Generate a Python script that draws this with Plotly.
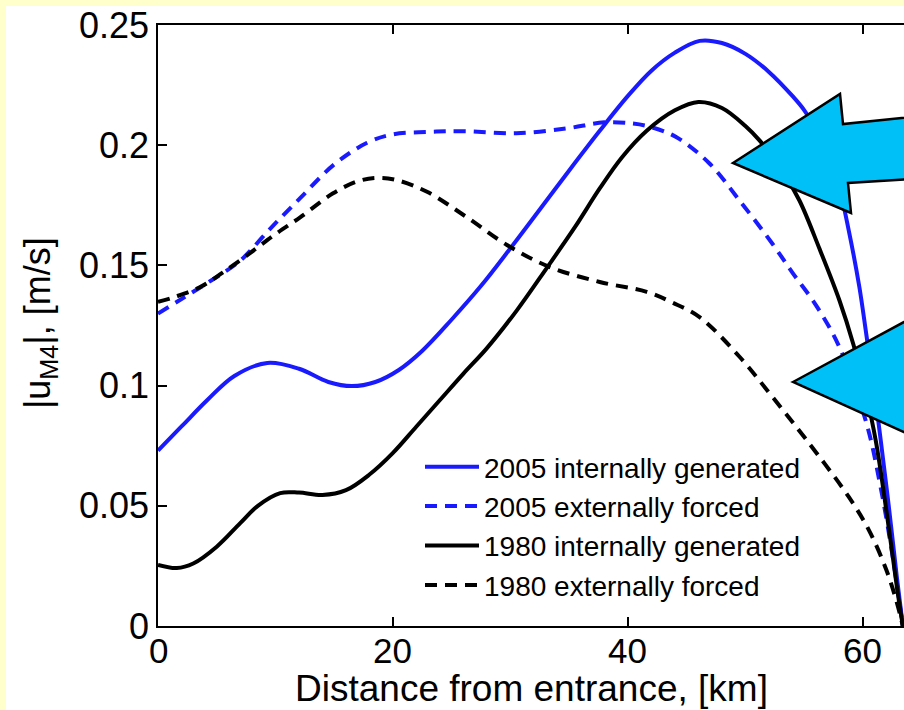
import plotly.graph_objects as go

# ---------------- data ----------------
x_2005_int = [0, 2, 4.2, 6.5, 9.3, 12, 14.5, 16.5, 18.5, 20.5, 22.5, 25, 27.5, 29.9, 32, 35,
              37.6, 40, 42, 44, 46.1, 48, 50, 52, 54, 55, 56, 57, 58, 58.8, 59.7, 60.3, 61,
              61.5, 62.2, 62.9, 63.4]
y_2005_int = [0.073, 0.083, 0.094, 0.104, 0.1094, 0.107, 0.1015, 0.0998, 0.1015, 0.1065,
              0.1145, 0.1275, 0.1415, 0.1565, 0.170, 0.1895, 0.206, 0.2205, 0.231, 0.2385,
              0.2434, 0.2425, 0.238, 0.2305, 0.2205, 0.2146, 0.2065, 0.196, 0.182, 0.1645,
              0.141, 0.121, 0.097, 0.078, 0.05, 0.02, 0.0]

x_2005_ext = [0, 2, 4.2, 7, 9.5, 12.1, 15, 17.8, 20, 22.9, 26, 30.5, 34.8, 38, 40.4, 42, 44.1,
              46.9, 49.5, 52.3, 54, 56, 58, 60.3, 61.5, 62.5, 63.4]
y_2005_ext = [0.130, 0.136, 0.1427, 0.152, 0.165, 0.178, 0.192, 0.201, 0.2045, 0.2055, 0.2058,
              0.205, 0.207, 0.2095, 0.209, 0.2075, 0.2034, 0.1926, 0.177, 0.159, 0.147, 0.1335,
              0.116, 0.0844, 0.058, 0.03, 0.0]

x_1980_int = [0, 1.6, 3, 5, 7, 8.5, 10.4, 12, 14, 16, 18, 20, 22, 24, 26, 28, 30.5, 33.1, 35.5,
              37.6, 39.5, 41.6, 44, 46, 48, 50, 51.2, 53, 54.6, 56.3, 58, 59.2, 60.2, 61.1, 62,
              62.9, 63.4]
y_1980_int = [0.0254, 0.0241, 0.026, 0.033, 0.0428, 0.050, 0.0553, 0.0555, 0.0545, 0.0565,
              0.063, 0.072, 0.083, 0.094, 0.105, 0.1156, 0.131, 0.149, 0.166, 0.182, 0.195,
              0.206, 0.2145, 0.218, 0.2155, 0.208, 0.202, 0.1905, 0.177, 0.157, 0.1355, 0.117,
              0.098, 0.077, 0.048, 0.016, 0.0]

x_1980_ext = [0, 1.5, 3.6, 5.5, 7.8, 10, 12.1, 14.9, 17, 18.6, 20.3, 22.9, 26.3, 29.7, 33.3,
              37.6, 41.6, 43.8, 46.1, 49.5, 52.3, 55.2, 58.8, 60.5, 62, 62.9, 63.4]
y_1980_ext = [0.1348, 0.137, 0.141, 0.147, 0.155, 0.163, 0.170, 0.180, 0.185, 0.1864, 0.1855,
              0.1806, 0.170, 0.1585, 0.1494, 0.1431, 0.139, 0.1345, 0.1285, 0.112, 0.0953,
              0.0774, 0.0537, 0.040, 0.0233, 0.0096, 0.0]

series_names = ["2005 internally generated", "2005 externally forced",
                "1980 internally generated", "1980 externally forced"]

x_ticks = [0, 20, 40, 60]
x_ticktext = ["0", "20", "40", "60"]
y_ticks = [0, 0.05, 0.1, 0.15, 0.2, 0.25]
y_ticktext = ["0", "0.05", "0.1", "0.15", "0.2", "0.25"]

# ---------------- layout geometry ----------------
W, H = 904, 710
ML, MT, MB, MR = 158, 25, 84, 0
PW, PH = W - ML - MR, H - MT - MB
FONT = "Liberation Sans, Arial, sans-serif"
BLUE = "#1a1aff"
CYAN = "#00c0f8"


def px2paper(px, py):
    return (px - ML) / PW, (H - MB - py) / PH


def path_from_px(points):
    parts = []
    for i, (px, py) in enumerate(points):
        xp, yp = px2paper(px, py)
        parts.append(("M" if i == 0 else "L") + f"{xp:.5f},{yp:.5f}")
    return " ".join(parts) + " Z"


fig = go.Figure()
styles = [(BLUE, "solid"), (BLUE, "12px,8px"), ("black", "solid"), ("black", "12px,8px")]
data = [(x_2005_int, y_2005_int), (x_2005_ext, y_2005_ext),
        (x_1980_int, y_1980_int), (x_1980_ext, y_1980_ext)]
for (xs, ys), name, (col, dash) in zip(data, series_names, styles):
    fig.add_trace(go.Scatter(x=xs, y=ys, mode="lines", name=name,
                             line=dict(color=col, width=4, dash=dash,
                                       shape="spline", smoothing=1.0)))

arrow1 = [(733, 163), (840, 94), (843, 124), (930, 115), (930, 178), (848, 183), (851, 213)]
arrow2 = [(793, 382), (930, 308), (930, 444)]

shapes = [
    dict(type="rect", xref="paper", yref="paper",
         x0=px2paper(6, 0)[0], x1=px2paper(W + 20, 0)[0],
         y0=px2paper(0, H + 20)[1], y1=px2paper(0, 6)[1],
         fillcolor="white", line=dict(width=0), layer="below"),
    dict(type="path", xref="paper", yref="paper", path=path_from_px(arrow1),
         fillcolor=CYAN, line=dict(color="black", width=2.5), layer="above"),
    dict(type="path", xref="paper", yref="paper", path=path_from_px(arrow2),
         fillcolor=CYAN, line=dict(color="black", width=2.5), layer="above"),
]

annotations = [
    dict(text="Distance from entrance, [km]", xref="paper", yref="paper",
         x=px2paper(531, 0)[0], y=px2paper(0, 688)[1], xanchor="center", yanchor="middle",
         showarrow=False, font=dict(family=FONT, size=37, color="black")),
    dict(text="|u<sub>M4</sub>|, [m/s]", xref="paper", yref="paper",
         x=px2paper(40, 0)[0], y=px2paper(0, 323)[1], xanchor="center", yanchor="middle",
         textangle=-90, showarrow=False, font=dict(family=FONT, size=36, color="black")),
]
for tv, tt in zip(x_ticks, x_ticktext):
    annotations.append(dict(text=tt, xref="x", yref="paper", x=tv, y=px2paper(0, 650)[1],
                            xanchor="center", yanchor="middle", showarrow=False,
                            font=dict(family=FONT, size=35, color="black")))

fig.update_layout(
    width=W, height=H,
    margin=dict(l=ML, r=MR, t=MT, b=MB, pad=0),
    paper_bgcolor="#ffffcc", plot_bgcolor="white",
    font=dict(family=FONT, color="black"),
    showlegend=True,
    legend=dict(x=px2paper(420, 0)[0], y=px2paper(0, 442)[1], xanchor="left", yanchor="top",
                bgcolor="rgba(0,0,0,0)", borderwidth=0, itemwidth=54,
                font=dict(family=FONT, size=28, color="black")),
    shapes=shapes, annotations=annotations,
)
fig.update_xaxes(range=[0, 63.5], tickvals=x_ticks, showticklabels=False, ticks="inside",
                 ticklen=9, tickcolor="black", tickwidth=1.5, showline=True,
                 linecolor="black", linewidth=1.5, mirror="ticks", showgrid=False,
                 zeroline=False, automargin=False)
fig.update_yaxes(range=[0, 0.25], tickvals=y_ticks, ticktext=y_ticktext, ticks="inside",
                 ticklen=9, tickcolor="black", tickwidth=1.5, showline=True,
                 linecolor="black", linewidth=1.5, mirror=False, showgrid=False,
                 zeroline=False, tickfont=dict(family=FONT, size=36, color="black"),
                 automargin=False)

fig.write_html("out.html")
